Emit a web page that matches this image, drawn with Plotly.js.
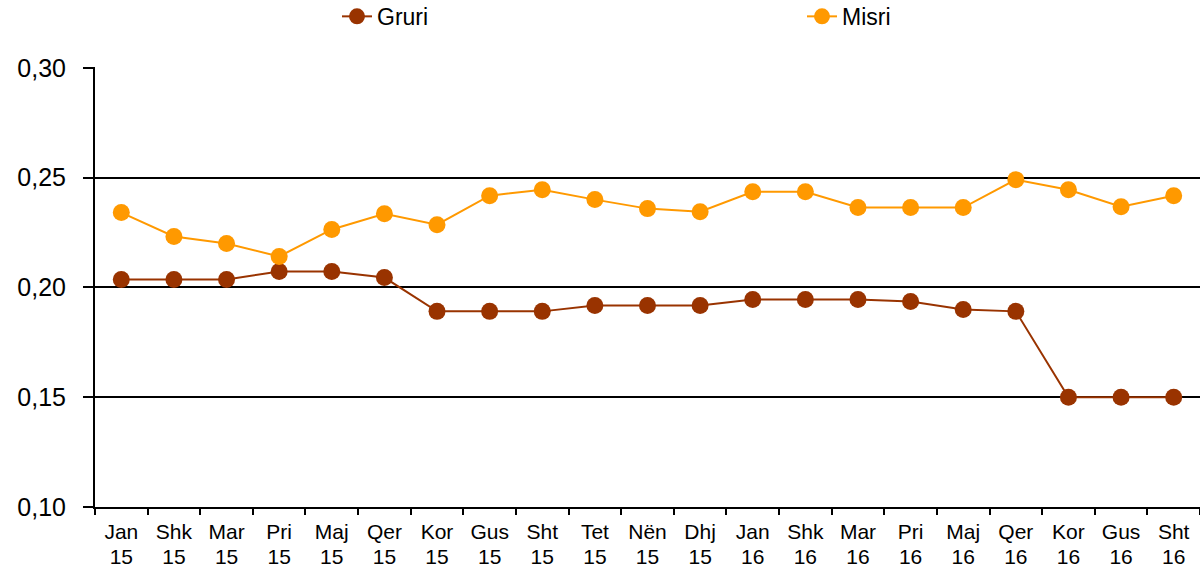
<!DOCTYPE html>
<html><head><meta charset="utf-8">
<script src="https://cdn.plot.ly/plotly-3.0.1.min.js"></script>
<style>html,body{margin:0;padding:0;background:#fff}#chart{width:1200px;height:569px}</style>
</head><body><div id="chart"></div>
<script>
var categories = ["Jan 15","Shk 15","Mar 15","Pri 15","Maj 15","Qer 15","Kor 15","Gus 15","Sht 15","Tet 15","Nën 15","Dhj 15","Jan 16","Shk 16","Mar 16","Pri 16","Maj 16","Qer 16","Kor 16","Gus 16","Sht 16"];
var monthLabels = ["Jan","Shk","Mar","Pri","Maj","Qer","Kor","Gus","Sht","Tet","Nën","Dhj","Jan","Shk","Mar","Pri","Maj","Qer","Kor","Gus","Sht"];
var yearLabels = ["15","15","15","15","15","15","15","15","15","15","15","15","16","16","16","16","16","16","16","16","16"];
var gruri = [0.2036,0.2036,0.2036,0.2073,0.2073,0.2045,0.1891,0.1891,0.1891,0.1918,0.1918,0.1918,0.1945,0.1945,0.1945,0.1936,0.1900,0.1891,0.1500,0.1500,0.1500];
var misri = [0.2341,0.2232,0.2200,0.2141,0.2264,0.2336,0.2286,0.2418,0.2445,0.2400,0.2359,0.2345,0.2436,0.2436,0.2364,0.2364,0.2364,0.2491,0.2445,0.2368,0.2418];
var yTicks = [0.10,0.15,0.20,0.25,0.30];

var font = {family: "Liberation Sans, Arial, sans-serif", color: "#000"};
var traces = [
  {x: categories, y: gruri, name: "Gruri", type: "scatter", mode: "lines+markers",
   line: {color: "#993300", width: 2}, marker: {color: "#993300", size: 17}},
  {x: categories, y: misri, name: "Misri", type: "scatter", mode: "lines+markers",
   line: {color: "#FF9900", width: 2}, marker: {color: "#FF9900", size: 17}},
  {x: categories, y: categories.map(function(){return null;}), xaxis: "x2", type: "scatter",
   mode: "lines", showlegend: false, hoverinfo: "skip"}
];
var layout = {
  width: 1200, height: 569,
  margin: {l: 95, r: 0, t: 67, b: 62, pad: 0, autoexpand: false},
  paper_bgcolor: "#fff", plot_bgcolor: "#fff",
  separators: ",.",
  showlegend: true,
  legend: {orientation: "h", x: 0.219, xanchor: "left", y: 1.115, yanchor: "middle",
    entrywidth: 420, entrywidthmode: "pixels",
    font: Object.assign({size: 23}, font), bgcolor: "rgba(0,0,0,0)"},
  xaxis: {type: "category", tickson: "boundaries", ticks: "outside", ticklen: 6, tickwidth: 2,
    tickcolor: "#000", showline: true, linecolor: "#000", linewidth: 2, showgrid: false,
    tickmode: "array", tickvals: categories, ticktext: monthLabels,
    tickfont: Object.assign({size: 21}, font), tickangle: 0, range: [-0.5, 20.5],
    ticklabelstandoff: 5, fixedrange: true},
  xaxis2: {type: "category", overlaying: "x", side: "bottom", anchor: "y", ticks: "",
    showline: false, showgrid: false, zeroline: false,
    tickmode: "array", tickvals: categories, ticktext: yearLabels,
    tickfont: Object.assign({size: 21}, font), tickangle: 0, range: [-0.5, 20.5],
    ticklabelstandoff: 35, fixedrange: true},
  yaxis: {range: [0.10, 0.3004], tickvals: yTicks, tickformat: ".2f", ticks: "outside", ticklen: 10,
    tickwidth: 2, tickcolor: "#000", showline: true, linecolor: "#000", linewidth: 2,
    showgrid: true, gridcolor: "#000", gridwidth: 2, zeroline: false,
    tickfont: Object.assign({size: 25}, font), ticklabelstandoff: 12, fixedrange: true}
};
Plotly.newPlot("chart", traces, layout, {displayModeBar: false, staticPlot: true});
</script></body></html>
